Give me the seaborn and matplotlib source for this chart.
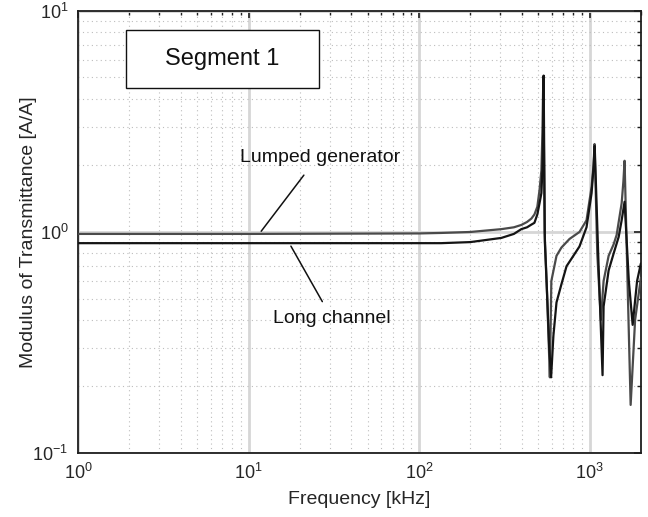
import numpy as np
import pandas as pd
import matplotlib
matplotlib.use("Agg")
import matplotlib.pyplot as plt
import seaborn as sns
from matplotlib import ticker

sns.set_theme(style="white")
plt.rcParams['font.family'] = ['Liberation Sans', 'DejaVu Sans']
plt.rcParams['mathtext.fontset'] = 'custom'
plt.rcParams['mathtext.rm'] = 'Liberation Sans'
plt.rcParams['axes.unicode_minus'] = False

# values (frequency in kHz, modulus in A/A)
lumped_f = [1, 10, 100, 135, 200, 304, 360, 398, 430, 456, 475, 494, 509, 522, 529, 533, 536,
            545, 560, 575, 585, 597, 640, 684, 763, 873, 960, 1028, 1055, 1070,
            1110, 1165, 1209, 1294, 1385, 1442, 1543, 1580, 1605, 1680, 1742, 1850, 2000]
lumped_v = [0.98, 0.98, 0.985, 0.99, 1.0, 1.03, 1.05, 1.076, 1.11, 1.15, 1.2, 1.3, 1.55, 1.9, 2.8, 4.0, 5.05,
            1.0, 0.6, 0.33, 0.22, 0.6, 0.78, 0.85, 0.93, 1.0, 1.13, 1.6, 2.0, 2.5,
            0.8, 0.4, 0.6, 0.78, 0.88, 0.97, 1.35, 1.7, 2.1, 0.5, 0.165, 0.4, 0.62]

long_f = [1, 10, 100, 135, 200, 304, 360, 398, 430, 456, 475, 494, 509, 522, 529, 533, 538,
          547, 565, 580, 595, 614, 640, 684, 733, 795, 873, 960, 1028, 1055, 1072,
          1130, 1192, 1209, 1294, 1385, 1482, 1543, 1605, 1700, 1790, 1900, 2000]
long_v = [0.89, 0.89, 0.89, 0.89, 0.9, 0.94, 0.98, 1.03, 1.05, 1.08, 1.1, 1.2, 1.35, 1.5, 1.9, 2.5, 5.1,
          0.9, 0.5, 0.3, 0.22, 0.34, 0.48, 0.58, 0.7, 0.77, 0.86, 1.05, 1.5, 1.95, 2.45,
          0.7, 0.225, 0.46, 0.67, 0.8, 0.95, 1.13, 1.37, 0.6, 0.38, 0.6, 0.72]

df = pd.concat([
    pd.DataFrame({"f": lumped_f, "v": lumped_v, "curve": "Lumped generator"}),
    pd.DataFrame({"f": long_f, "v": long_v, "curve": "Long channel"}),
])

fig = plt.figure(figsize=(6.48, 5.17), dpi=100)
ax = fig.add_axes([0.1204, 0.1238, 0.8686, 0.855])

sns.lineplot(data=df, x="f", y="v", hue="curve", estimator=None, sort=False,
             palette={"Lumped generator": "#4a4a4a", "Long channel": "#141414"},
             linewidth=1.6, legend=False, ax=ax, zorder=3)

ax.set_xscale("log")
ax.set_yscale("log")
ax.set_xlim(1, 2000)
ax.set_ylim(0.1, 10)

ax.xaxis.set_major_locator(ticker.LogLocator(base=10, numticks=10))
ax.yaxis.set_major_locator(ticker.LogLocator(base=10, numticks=10))
ax.xaxis.set_minor_locator(ticker.LogLocator(base=10, subs=np.arange(2, 10), numticks=20))
ax.yaxis.set_minor_locator(ticker.LogLocator(base=10, subs=np.arange(2, 10), numticks=20))
ax.xaxis.set_minor_formatter(ticker.NullFormatter())
ax.yaxis.set_minor_formatter(ticker.NullFormatter())

ax.grid(True, which="major", color="#d6d6d6", linewidth=2.0, linestyle="-", zorder=0)
ax.grid(True, which="minor", color="#bdbdbd", linewidth=0.8, linestyle=(0, (1, 3)), zorder=0)
ax.set_axisbelow(True)

for s in ax.spines.values():
    s.set_visible(True)
    s.set_color("#1e1e1e")
    s.set_linewidth(1.3)

ax.tick_params(which="both", direction="in", top=True, right=True, colors="#1e1e1e",
               labelcolor="#262626", labelsize=13)
ax.tick_params(which="major", length=5, width=1.2)
ax.tick_params(which="minor", length=3, width=1.0)
ax.tick_params(axis="x", which="major", pad=7)
ax.tick_params(axis="y", which="major", pad=7)

ax.set_xlabel("Frequency [kHz]", fontsize=14, color="#262626", labelpad=6)
ax.set_ylabel("Modulus of Transmittance [A/A]", fontsize=14, color="#262626", labelpad=-3)

# labels with leader lines
ax.text(8.97, 2.18, "Lumped generator", fontsize=14, ha="left", va="center", color="#111111")
ax.annotate("", xy=(11.6, 0.985), xytext=(21.6, 1.85),
            arrowprops=dict(arrowstyle="-", color="#111111", lw=1.1))
ax.text(14.0, 0.408, "Long channel", fontsize=14, ha="left", va="center", color="#111111")
ax.annotate("", xy=(17.4, 0.885), xytext=(27.6, 0.472),
            arrowprops=dict(arrowstyle="-", color="#111111", lw=1.1))

# "Segment 1" box
box = plt.Rectangle((0.085, 0.826), 0.343, 0.131, transform=ax.transAxes,
                    facecolor="white", edgecolor="#111111", linewidth=1.0, zorder=4)
ax.add_patch(box)
ax.text(0.2565, 0.8915, "Segment 1", transform=ax.transAxes, fontsize=17, ha="center", va="center",
        color="#111111", zorder=5)

fig.savefig("out.png", dpi=100, facecolor="white")
